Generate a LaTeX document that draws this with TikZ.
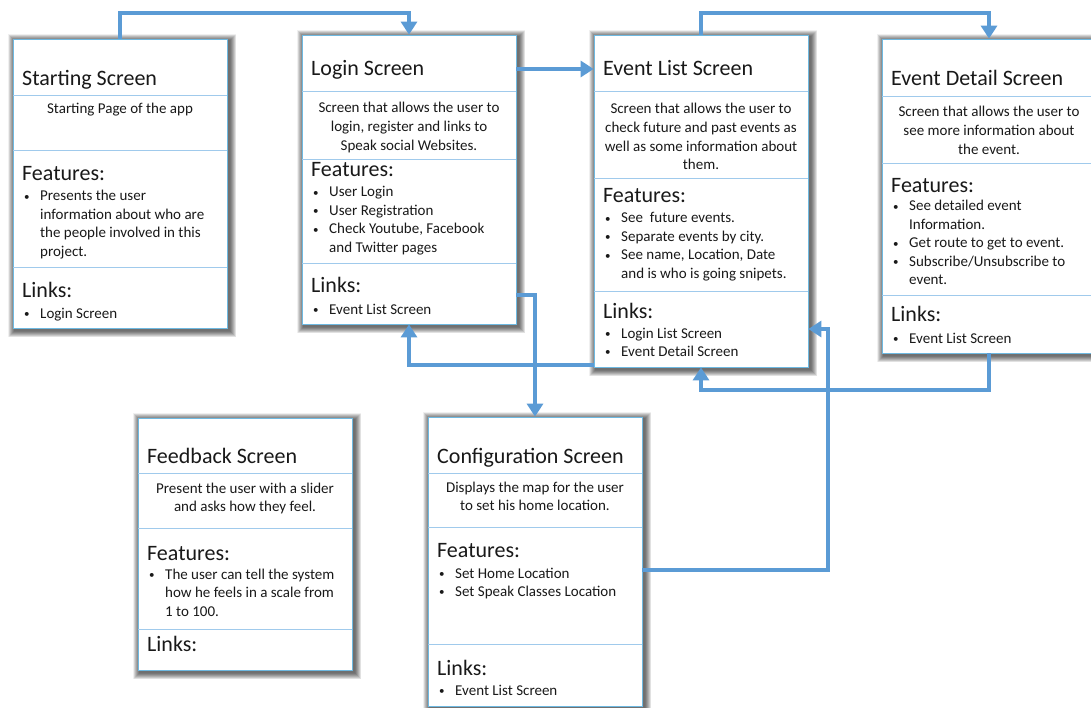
\documentclass[tikz,border=0pt]{standalone}
\usepackage{fontspec}
\setmainfont{Carlito}
\usetikzlibrary{arrows.meta,fit,calc}
\definecolor{connblue}{RGB}{91,155,213}
\definecolor{boxedge}{RGB}{110,185,225}
\definecolor{divline}{RGB}{160,202,236}
\definecolor{txt}{RGB}{25,25,25}
\newcommand\bu{\makebox[18pt][l]{\hspace{2pt}\raisebox{0.6pt}{\fontsize{11}{11}\selectfont\textbullet}}}
\newcommand\screenshadow[4]{%
  \foreach \k in {0.4,0.9,...,6.4}{%
    \fill[black,opacity=0.06] ({#1+1.8-\k},{#2+1.8-\k}) rectangle ({#3+2.6+\k},{#4+2.6+\k});}}
\newcommand\screenbox[5]{%
  \screenshadow{#2}{#3}{#4}{#5}%
  \node[screenbox, fit={(#2,#3) (#4,#5)}] (#1) {};}
\tikzset{
  screenbox/.style={draw=boxedge, line width=0.8pt, fill=white, inner sep=0pt},
  divider/.style={draw=divline, line width=0.8pt},
  ttl/.style={font=\fontsize{22}{26}\selectfont, text=txt, inner sep=0pt, anchor=base west},
  body/.style={font=\fontsize{15}{18.6}\selectfont, text=txt, inner sep=0pt, anchor=base},
  itemlist/.style={font=\fontsize{15}{18.5}\selectfont, text=txt, inner sep=0pt, anchor=base west},
  conn/.style={draw=connblue, line width=4pt, -{Triangle[width=16pt,length=13pt]}},
}
\begin{document}
\begin{tikzpicture}[x=1pt,y=-1pt]
\useasboundingbox (0,0) rectangle (1091,708);
\fill[white] (0,0) rectangle (1091,708);

% ---------- boxes ----------
\screenbox{start}{13}{39}{227}{328}
\screenbox{login}{302}{35}{516}{324}
\screenbox{evlist}{594}{35}{808}{367}
\screenbox{detail}{882}{39}{1096}{353}
\screenbox{feedback}{138}{418}{352}{670}
\screenbox{config}{428}{417}{642}{706}

% ---------- Starting Screen ----------
\draw[divider] (13,95) -- (227,95);
\draw[divider] (13,150) -- (227,150);
\draw[divider] (13,267) -- (227,267);
\node[ttl] (s-title) at (22,86) {Starting Screen};
\node[body] (s-desc) at (120,114) {Starting Page of the app};
\node[ttl] (s-feat) at (22,181) {Features:};
\node[itemlist] (s-items) at (22,201) {\begin{tabular}[t]{@{}l@{}l@{}}\bu&Presents the user\\ &information about who are\\ &the people involved in this\\ &project.\end{tabular}};
\node[ttl] (s-links) at (22,298) {Links:};
\node[itemlist] (s-litems) at (22,318) {\bu Login Screen};

% ---------- Login Screen ----------
\draw[divider] (302,91) -- (516,91);
\draw[divider] (302,159) -- (516,159);
\draw[divider] (302,263) -- (516,263);
\node[ttl] (l-title) at (311,76) {Login Screen};
\node[body] (l-desc) at (409,113) {\begin{tabular}[t]{@{}c@{}}Screen that allows the user to\\login, register and links to\\Speak social Websites.\end{tabular}};
\node[ttl] (l-feat) at (311,177) {Features:};
\node[itemlist] (l-items) at (311,197) {\begin{tabular}[t]{@{}l@{}l@{}}\bu&User Login\\ \bu&User Registration\\ \bu&Check Youtube, Facebook\\ &and Twitter pages\end{tabular}};
\node[ttl] (l-links) at (311,293) {Links:};
\node[itemlist] (l-litems) at (311,314) {\bu Event List Screen};

% ---------- Event List Screen ----------
\draw[divider] (594,91) -- (808,91);
\draw[divider] (594,178) -- (808,178);
\draw[divider] (594,291) -- (808,291);
\node[ttl] (e-title) at (603,76) {Event List Screen};
\node[body] (e-desc) at (701,114) {\begin{tabular}[t]{@{}c@{}}Screen that allows the user to\\check future and past events as\\well as some information about\\them.\end{tabular}};
\node[ttl] (e-feat) at (603,203) {Features:};
\node[itemlist] (e-items) at (603,223) {\begin{tabular}[t]{@{}l@{}l@{}}\bu&See\ \ future events.\\ \bu&Separate events by city.\\ \bu&See name, Location, Date\\ &and is who is going snipets.\end{tabular}};
\node[ttl] (e-links) at (603,318) {Links:};
\node[itemlist] (e-litems) at (603,338) {\begin{tabular}[t]{@{}l@{}l@{}}\bu&Login List Screen\\ \bu&Event Detail Screen\end{tabular}};

% ---------- Event Detail Screen ----------
\draw[divider] (882,96) -- (1096,96);
\draw[divider] (882,163) -- (1096,163);
\draw[divider] (882,295) -- (1096,295);
\node[ttl] (d-title) at (891,86) {Event Detail Screen};
\node[body] (d-desc) at (989,117) {\begin{tabular}[t]{@{}c@{}}Screen that allows the user to\\see more information about\\the event.\end{tabular}};
\node[ttl] (d-feat) at (891,193) {Features:};
\node[itemlist] (d-items) at (891,211) {\begin{tabular}[t]{@{}l@{}l@{}}\bu&See detailed event\\ &Information.\\ \bu&Get route to get to event.\\ \bu&Subscribe/Unsubscribe to\\ &event.\end{tabular}};
\node[ttl] (d-links) at (891,321) {Links:};
\node[itemlist] (d-litems) at (891,343) {\bu Event List Screen};

% ---------- Feedback Screen ----------
\draw[divider] (138,473) -- (352,473);
\draw[divider] (138,528) -- (352,528);
\draw[divider] (138,629) -- (352,629);
\node[ttl] (f-title) at (147,463) {Feedback Screen};
\node[body] (f-desc) at (245,493) {\begin{tabular}[t]{@{}c@{}}Present the user with a slider\\and asks how they feel.\end{tabular}};
\node[ttl] (f-feat) at (147,560) {Features:};
\node[itemlist] (f-items) at (147,579) {\begin{tabular}[t]{@{}l@{}l@{}}\bu&The user can tell the system\\ &how he feels in a scale from\\ &1 to 100.\end{tabular}};
\node[ttl] (f-links) at (147,651) {Links:};

% ---------- Configuration Screen ----------
\draw[divider] (428,473) -- (642,473);
\draw[divider] (428,527) -- (642,527);
\draw[divider] (428,644) -- (642,644);
\node[ttl] (c-title) at (437,463) {Configuration Screen};
\node[body] (c-desc) at (535,492) {\begin{tabular}[t]{@{}c@{}}Displays the map for the user\\to set his home location.\end{tabular}};
\node[ttl] (c-feat) at (437,557) {Features:};
\node[itemlist] (c-items) at (437,578) {\begin{tabular}[t]{@{}l@{}l@{}}\bu&Set Home Location\\ \bu&Set Speak Classes Location\end{tabular}};
\node[ttl] (c-links) at (437,675) {Links:};
\node[itemlist] (c-litems) at (437,695) {\bu Event List Screen};

% ---------- connectors ----------
\draw[conn] (start.north) |- ([yshift=22pt]login.north) -- (login.north);
\draw[conn] (login.east |- 0,69) -- (evlist.west |- 0,69);
\draw[conn] (evlist.north) |- ([yshift=26pt]detail.north) -- (detail.north);
\draw[conn] (login.east |- 0,295) -| (config.north);
\draw[conn] (evlist.west |- 0,365) -| (login.south);
\draw[conn] (detail.south) |- (evlist.south |- 0,390) -- (evlist.south);
\coordinate (cfgbend) at (828,329);
\draw[conn] (config.east |- 0,570) -| (cfgbend) -- (evlist.east |- cfgbend);
\end{tikzpicture}
\end{document}
